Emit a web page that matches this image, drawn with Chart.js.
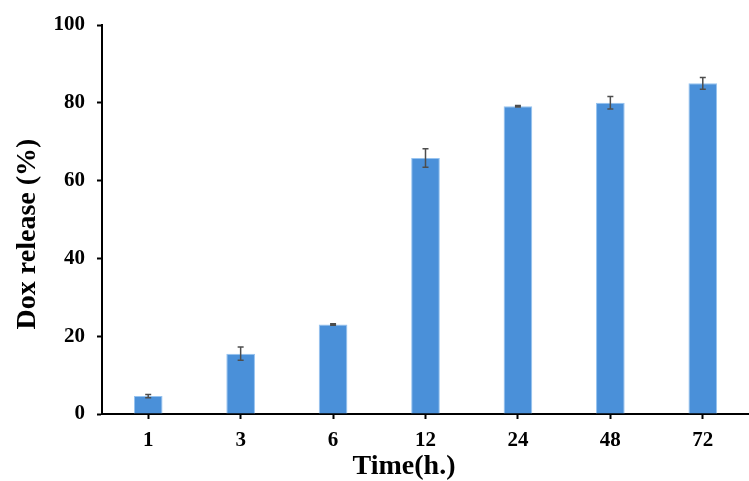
<!DOCTYPE html>
<html lang="en">
<head>
    <meta charset="UTF-8">
    <title>Dox release</title>
    <script src="https://cdn.jsdelivr.net/npm/chart.js"></script>
    <style>
        html, body { margin: 0; padding: 0; background: #fff; }
        #wrap { width: 749px; height: 481px; }
    </style>
</head>
<body>
<div id="wrap"><canvas id="ChartDox"></canvas></div>
<script>
    // tempo (h) e liberação de Dox (%)
    const tempos = ['1', '3', '6', '12', '24', '48', '72'];
    const liberacao = [4.6, 15.5, 23.0, 65.8, 79.1, 80.0, 85.0];
    const desvio = [0.4, 1.7, 0.2, 2.4, 0.2, 1.6, 1.5];
    const ticksY = [0, 20, 40, 60, 80, 100];

    const fonteSerif = "'Liberation Serif', 'Times New Roman', serif";

    // barras de erro desenhadas pelas escalas do gráfico
    const barrasErro = {
        id: 'barrasErro',
        afterDatasetsDraw(chart) {
            const ctx = chart.ctx;
            const y = chart.scales.y;
            const meta = chart.getDatasetMeta(0);
            ctx.save();
            ctx.strokeStyle = '#4d4d4d';
            ctx.lineWidth = 1.5;
            meta.data.forEach((bar, i) => {
                const topo = y.getPixelForValue(liberacao[i] + desvio[i]);
                const base = y.getPixelForValue(liberacao[i] - desvio[i]);
                const cx = bar.x;
                ctx.beginPath();
                ctx.moveTo(cx, topo); ctx.lineTo(cx, base);
                ctx.moveTo(cx - 3, topo); ctx.lineTo(cx + 3, topo);
                ctx.moveTo(cx - 3, base); ctx.lineTo(cx + 3, base);
                ctx.stroke();
            });
            ctx.restore();
        }
    };

    // títulos dos eixos
    const titulos = {
        id: 'titulos',
        afterDraw(chart) {
            const ctx = chart.ctx;
            ctx.save();
            ctx.font = "bold 28px " + fonteSerif;
            ctx.fillStyle = '#000';
            ctx.textAlign = 'center';
            ctx.textBaseline = 'middle';
            ctx.fillText('Time(h.)', 404, 467);
            ctx.translate(28, 234);
            ctx.rotate(-Math.PI / 2);
            ctx.fillText('Dox release (%)', 0, 0);
            ctx.restore();
        }
    };

    const config1 = {
        type: 'bar',
        data: {
            labels: tempos,
            datasets: [{
                label: 'Dox release',
                data: liberacao,
                backgroundColor: 'rgb(74,144,217)',
                borderColor: 'rgb(150,195,240)',
                borderWidth: 1,
                barPercentage: 0.31,
                categoryPercentage: 1
            }]
        },
        options: {
            responsive: true,
            maintainAspectRatio: false,
            animation: false,
            layout: { padding: { top: 25, right: 0, left: 0, bottom: 0 } },
            plugins: {
                legend: { display: false },
                tooltip: { enabled: false }
            },
            scales: {
                x: {
                    afterFit(scale) { scale.height = 67; },
                    grid: {
                        offset: false,
                        drawOnChartArea: false,
                        drawTicks: true,
                        tickLength: 5,
                        tickWidth: 2,
                        tickColor: '#000'
                    },
                    border: { color: '#000', width: 2 },
                    ticks: {
                        color: '#000',
                        padding: 9,
                        font: { family: fonteSerif, size: 21, weight: 'bold' }
                    }
                },
                y: {
                    min: 0,
                    max: 100,
                    afterFit(scale) { scale.width = 102; },
                    afterBuildTicks(scale) {
                        scale.ticks = ticksY.map(v => ({ value: v }));
                    },
                    grid: {
                        drawOnChartArea: false,
                        drawTicks: true,
                        tickLength: 5,
                        tickWidth: 2,
                        tickColor: '#000'
                    },
                    border: { color: '#000', width: 2 },
                    ticks: {
                        color: '#000',
                        padding: 12,
                        font: { family: fonteSerif, size: 21, weight: 'bold' }
                    }
                }
            }
        },
        plugins: [barrasErro, titulos]
    };

    const myChart = new Chart(
        document.getElementById('ChartDox'),
        config1
    );
</script>
</body>
</html>
